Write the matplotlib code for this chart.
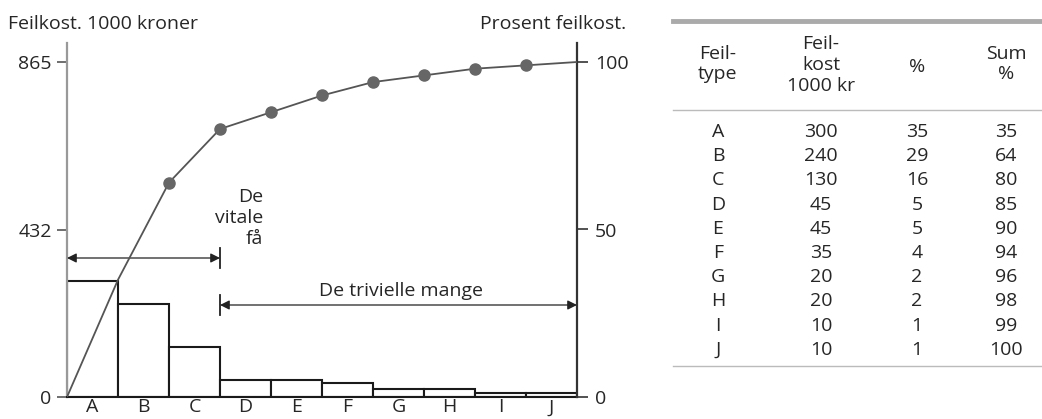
import matplotlib.pyplot as plt
from matplotlib.lines import Line2D

plt.rcParams['font.family'] = ['Open Sans', 'DejaVu Sans']

# Pareto data: error types, cost (1000 kr), share and cumulative share (%)
types = ['A', 'B', 'C', 'D', 'E', 'F', 'G', 'H', 'I', 'J']
cost = [300, 240, 130, 45, 45, 35, 20, 20, 10, 10]
pct = [35, 29, 16, 5, 5, 4, 2, 2, 1, 1]
cum_pct = [35, 64, 80, 85, 90, 94, 96, 98, 99, 100]

total = 865                      # value printed at the top of the left axis
left_ticks = [0, 432, 865]
right_ticks = [0, 50, 100]

W, H = 1042, 419
txt = '#262626'
fs = 14

fig = plt.figure(figsize=(W / 100, H / 100), dpi=100)

def fx(px):
    return px / W

def fy(py):
    return 1 - py / H

ax = fig.add_axes([fx(67), fy(397), fx(577) - fx(67), fy(43) - fy(397)])
ax2 = ax.twinx()

x = list(range(len(types)))
ax.bar([i + 0.5 for i in x], cost, width=1.0, color='white',
       edgecolor='#1a1a1a', linewidth=1.5, zorder=2)

ytop = total * (397 - 43) / (397 - 62)
ax.set_xlim(0, len(types))
ax.set_ylim(0, ytop)
ax2.set_ylim(0, ytop / total * 100)

# cumulative curve drawn at the right edge of each bar, starting from origin
cx = [0] + [i + 1 for i in x]
cy = [0] + cum_pct
ax2.plot(cx, cy, color='#555555', lw=1.3, zorder=3)
ax2.plot(cx[2:-1], cy[2:-1], 'o', color='#666666', ms=8, zorder=4)

ax.set_yticks(left_ticks)
ax.set_yticklabels([str(t) for t in left_ticks])
ax2.set_yticks(right_ticks)
ax2.set_yticklabels([str(t) for t in right_ticks])
ax.set_xticks([i + 0.5 for i in x])
ax.set_xticklabels(types)

ax.tick_params(axis='x', length=0, pad=1, labelsize=fs, labelcolor=txt)
ax.tick_params(axis='y', direction='out', length=7, width=1.2, color='#555555',
               pad=4, labelsize=fs, labelcolor=txt)
ax2.tick_params(axis='y', direction='out', length=8, width=1.2, color='#333333',
                pad=5, labelsize=fs, labelcolor=txt)

for a in (ax, ax2):
    a.spines['top'].set_visible(False)
    a.patch.set_visible(False)
ax2.spines['left'].set_visible(False)
ax2.spines['bottom'].set_visible(False)
ax.spines['right'].set_visible(False)
ax.spines['left'].set_color('#999999')
ax.spines['left'].set_linewidth(1.6)
ax2.spines['right'].set_color('#333333')
ax2.spines['right'].set_linewidth(1.6)
ax.spines['bottom'].set_color('#1a1a1a')
ax.spines['bottom'].set_linewidth(1.5)

# "vital few" / "trivial many" brackets
split = 3
px_unit = total / (397 - 62)
arrow_kw = dict(arrowstyle='<|-|>', color='#222222', lw=0.9,
                shrinkA=0, shrinkB=0, mutation_scale=14)
y_vital = (397 - 258) * px_unit
y_triv = (397 - 305) * px_unit
ax.annotate('', xy=(split, y_vital), xytext=(0, y_vital), arrowprops=arrow_kw)
ax.plot([split, split], [y_vital - 25, y_vital + 25], color='#222222', lw=1.3)
ax.annotate('', xy=(len(types), y_triv), xytext=(split, y_triv),
            arrowprops=arrow_kw)
ax.plot([split, split], [y_triv - 27, y_triv + 27], color='#222222', lw=1.3)

ax.text(3.84, (397 - 218) * px_unit, 'De\nvitale\nfå', ha='right',
        va='center', fontsize=fs, color=txt, linespacing=1.2)
ax.text(6.55, (397 - 291) * px_unit, 'De trivielle mange', ha='center',
        va='center', fontsize=fs, color=txt)

fig.text(fx(8), fy(24), 'Feilkost. 1000 kroner', ha='left', va='center',
         fontsize=fs, color=txt)
fig.text(fx(626), fy(24), 'Prosent feilkost.', ha='right', va='center',
         fontsize=fs, color=txt)

# table to the right of the chart
fig.add_artist(Line2D([fx(673), 1], [fy(21), fy(21)], color='#aaaaaa', lw=3.5))
fig.add_artist(Line2D([fx(673), 1], [fy(110), fy(110)], color='#bbbbbb', lw=1))
fig.add_artist(Line2D([fx(673), 1], [fy(366), fy(366)], color='#bbbbbb', lw=1))

col_x = [718, 821, 917, 1006]
headers = ['Feil-\ntype', 'Feil-\nkost\n1000 kr', '%', 'Sum\n%']
head_y = [64, 65, 67, 64]
for cx_, hy, h in zip(col_x, head_y, headers):
    fig.text(fx(cx_), fy(hy), h, ha='center', va='center', fontsize=fs,
             color=txt, linespacing=1.2)

row0, step = 132, 24.2
for r in range(len(types)):
    vals = [types[r], str(cost[r]), str(pct[r]), str(cum_pct[r])]
    for cx_, v in zip(col_x, vals):
        fig.text(fx(cx_), fy(row0 + r * step), v, ha='center', va='center',
                 fontsize=fs, color=txt)

fig.savefig('out.png', dpi=100)
